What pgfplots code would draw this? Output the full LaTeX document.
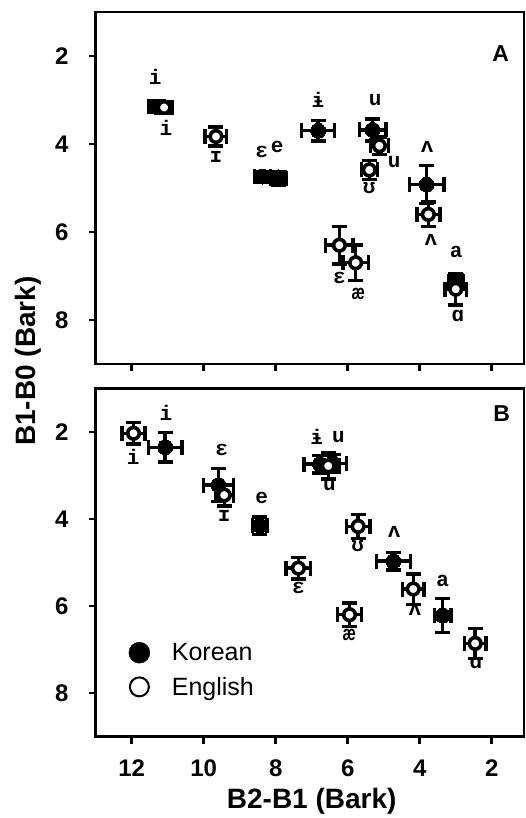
\documentclass[border=0pt]{standalone}
\usepackage{fontspec}
\setmainfont{Liberation Sans}
\newfontfamily\ipa{Liberation Mono}
\usepackage{pgfplots}
\pgfplotsset{compat=1.18}
\usepackage{pgfplotstable}

% panel A
\pgfplotstableread{
x     y     ex    ey
11.31 3.15  0.22  0.13
8.37  4.74  0.22  0.12
6.82  3.70  0.46  0.23
5.31  3.68  0.37  0.25
3.81  4.92  0.48  0.43
2.99  7.13  0.20  0.15
}\korA
\pgfplotstableread{
x     y     ex    ey
7.93  4.76  0.20  0.12
}\korAtop
\pgfplotstableread{
x     y     ex    ey
11.10 3.17  0.22  0.13
9.66  3.83  0.30  0.22
7.93  4.78  0.22  0.15
5.12  4.04  0.25  0.20
5.40  4.59  0.22  0.22
3.76  5.60  0.32  0.28
6.23  6.30  0.38  0.43
5.78  6.70  0.35  0.40
3.00  7.30  0.30  0.36
}\engA
% panel B
\pgfplotstableread{
x     y     ex    ey
11.07 2.35  0.47  0.34
9.59  3.22  0.42  0.38
8.44  4.15  0.20  0.20
6.77  2.74  0.44  0.20
6.40  2.72  0.37  0.20
4.73  4.97  0.47  0.20
3.36  6.22  0.23  0.39
}\korB
\pgfplotstableread{
x     y     ex    ey
11.95 2.03  0.32  0.25
9.43  3.45  0.25  0.25
6.54  2.78  0.30  0.30
5.71  4.17  0.33  0.28
7.37  5.13  0.34  0.25
5.95  6.20  0.34  0.27
4.18  5.61  0.30  0.35
2.46  6.86  0.30  0.34
}\engB

\pgfplotsset{
  panel/.style={
    scale only axis, width=428.4pt,
    xmin=1.1, xmax=13, ymin=1, ymax=9,
    x dir=reverse, y dir=reverse,
    xtick={2,4,...,12}, ytick={2,4,6,8},
    tick align=outside, xtick pos=bottom, ytick pos=left,
    major tick length=7pt,
    axis line style={line width=2.5pt},
    major tick style={line width=2.5pt, black},
    /pgf/number format/assume math mode=true,
    ticklabel style={font=\bfseries\fontsize{24}{24}\selectfont},
    yticklabel style={anchor=center, xshift=-27pt},
    xticklabel style={anchor=center, yshift=-25pt},
    clip=false,
  },
  vowel/.style={only marks, forget plot,
    error bars/x dir=both, error bars/x explicit,
    error bars/y dir=both, error bars/y explicit,
    error bars/error mark=|,
    error bars/error bar style={line width=3.4pt, black},
    error bars/error mark options={line width=3.4pt, mark size=7.5pt, black}},
  kor/.style={vowel, mark=*, mark size=7.5pt, mark options={fill=black, draw=black, line width=0pt}},
  eng/.style={vowel, mark=*, mark size=5.8pt, mark options={fill=white, draw=black, line width=3.6pt}},
}
\tikzset{
  lab/.style={font=\ipa\bfseries\fontsize{21}{21}\selectfont, inner sep=0pt},
  letter/.style={font=\bfseries\fontsize{23}{23}\selectfont, inner sep=0pt},
}

\begin{document}
\begin{tikzpicture}
\begin{axis}[panel, height=352pt, at={(95.7pt,454pt)}, anchor=south west, xticklabels={}]
\addplot+[kor] table[x=x, y=y, x error=ex, y error=ey] {\korA};
\addplot+[eng] table[x=x, y=y, x error=ex, y error=ey] {\engA};
\addplot+[kor] table[x=x, y=y, x error=ex, y error=ey] {\korAtop};
\node[lab] at (axis cs:11.35,2.47) {i};
\node[lab] at (axis cs:11.05,3.64) {i};
\node[lab] at (axis cs:9.66,4.29) {ɪ};
\node[lab] at (axis cs:8.39,4.18) {ɛ};
\node[lab] at (axis cs:7.96,4.06) {e};
\node[lab] at (axis cs:6.83,3.00) {ɨ};
\node[lab] at (axis cs:5.24,3.00) {u};
\node[lab] at (axis cs:4.71,4.42) {u};
\node[lab] at (axis cs:5.40,5.01) {ʊ};
\node[lab] at (axis cs:3.79,4.06) {ʌ};
\node[lab] at (axis cs:3.69,6.17) {ʌ};
\node[lab] at (axis cs:6.23,7.05) {ɛ};
\node[lab] at (axis cs:5.71,7.41) {æ};
\node[lab] at (axis cs:2.99,6.45) {a};
\node[lab] at (axis cs:2.94,7.91) {ɑ};
\node[letter] at (axis cs:1.75,1.94) {A};
\end{axis}

\begin{axis}[panel, height=348pt, at={(95.7pt,81.5pt)}, anchor=south west,
  legend style={draw=none, fill=none, at={(0.077,0.274)}, anchor=north west,
    font=\fontsize{25}{25}\selectfont, row sep=11pt, inner sep=0pt,
    /tikz/every odd column/.append style={column sep=20pt}},
  legend cell align=left]
\addlegendimage{only marks, mark=*, mark size=10.5pt, mark options={fill=black, draw=black}}
\addlegendentry{Korean}
\addlegendimage{only marks, mark=o, mark size=9.5pt, mark options={draw=black, line width=2pt}}
\addlegendentry{English}
\addplot+[kor] table[x=x, y=y, x error=ex, y error=ey] {\korB};
\addplot+[eng] table[x=x, y=y, x error=ex, y error=ey] {\engB};
\node[lab] at (axis cs:11.05,1.57) {i};
\node[lab] at (axis cs:11.96,2.58) {i};
\node[lab] at (axis cs:9.50,2.41) {ɛ};
\node[lab] at (axis cs:9.43,3.94) {ɪ};
\node[lab] at (axis cs:8.39,3.52) {e};
\node[lab] at (axis cs:6.86,2.11) {ɨ};
\node[lab] at (axis cs:6.26,2.11) {u};
\node[lab] at (axis cs:6.51,3.22) {u};
\node[lab] at (axis cs:5.72,4.63) {ʊ};
\node[lab] at (axis cs:7.37,5.59) {ɛ};
\node[lab] at (axis cs:5.96,6.66) {æ};
\node[lab] at (axis cs:4.71,4.30) {ʌ};
\node[lab] at (axis cs:4.13,6.08) {ʌ};
\node[lab] at (axis cs:3.36,5.43) {a};
\node[lab] at (axis cs:2.44,7.31) {ɑ};
\node[letter] at (axis cs:1.72,1.57) {B};
\end{axis}

\node[rotate=90, font=\bfseries\fontsize{28}{28}\selectfont] at (28pt,457pt) {B1-B0 (Bark)};
\node[font=\bfseries\fontsize{28}{28}\selectfont] at (311.7pt,16.3pt) {B2-B1 (Bark)};
\pgfresetboundingbox
\path[use as bounding box] (0pt,0pt) rectangle (526pt,818pt);
\end{tikzpicture}
\end{document}
